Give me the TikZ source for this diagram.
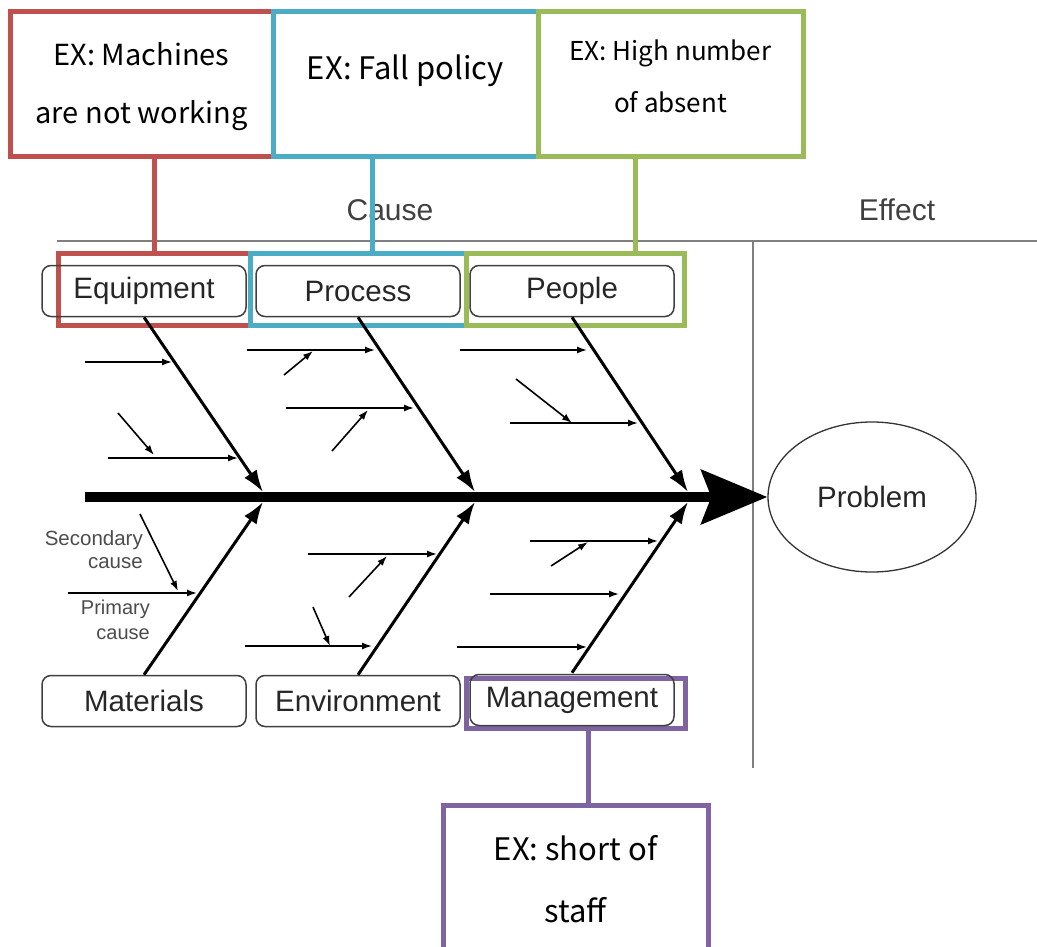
\documentclass[tikz,border=0pt]{standalone}
\usepackage{fontspec}
\setmainfont{Liberation Sans}
\newfontfamily\exfont{Noto Sans CJK KR}
\usepackage{tikz}
\usetikzlibrary{arrows.meta,shapes.geometric}

\definecolor{exred}{HTML}{C0504D}
\definecolor{exblue}{HTML}{4BACC6}
\definecolor{exgreen}{HTML}{9BBB59}
\definecolor{expurple}{HTML}{8064A2}
\definecolor{axisgray}{HTML}{7F7F7F}

\tikzset{
  cat/.style={draw=black!75, line width=1.5pt, rounded corners=9pt, minimum width=204pt, minimum height=51pt, inner sep=0pt, font=\fontsize{29.5}{32}\selectfont, text=black!85},
  exbox/.style={draw=#1, line width=5pt, inner sep=0pt},
  extext/.style={font=\exfont, align=center, text=black},
  bone/.style={line width=3pt, -{Latex[length=22pt,width=15pt]}},
  twig/.style={line width=1.6pt, -{Latex[length=10pt,width=7pt]}},
}

\begin{document}
\begin{tikzpicture}[x=1pt, y=-1pt]
\useasboundingbox (0,0) rectangle (1037,947);

% Cause / Effect frame
\node (cause) at (390,210) [font=\fontsize{30}{32}\selectfont, text=black!75] {Cause};
\node (effect) at (897,210) [font=\fontsize{30}{32}\selectfont, text=black!75] {Effect};
\coordinate (hl) at (57,241);
\coordinate (hr) at (1037,241);
\coordinate (vt) at (753,241);
\coordinate (vb) at (753,768);
\draw[axisgray, line width=2pt] (hl) -- (hr);
\draw[axisgray, line width=2pt] (vt) -- (vb);

% colour marks behind the categories
\node (redlow) at (154,289) [exbox=exred, minimum width=192pt, minimum height=72pt] {};
\node (bluelow) at (358,289) [exbox=exblue, minimum width=216pt, minimum height=72pt] {};
\node (greenlow) at (575,289) [exbox=exgreen, minimum width=218pt, minimum height=72pt] {};
\node (purplelow) at (576,703) [exbox=expurple, minimum width=219pt, minimum height=50pt] {};

% categories
\node (equip) at (144,291) [cat] {Equipment};
\node (proc) at (358,291) [cat] {Process};
\node (people) at (572,291) [cat] {People};
\node (mat) at (144,701) [cat] {Materials};
\node (env) at (358,701) [cat] {Environment};
\node (mgmt) at (572,700) [cat] {Management};

% effect
\node (prob) at (872,497) [draw=black!80, line width=1.3pt, ellipse, minimum width=208pt, minimum height=150pt, font=\fontsize{29.5}{32}\selectfont, text=black!85] {Problem};

% spine
\coordinate (tail) at (85,497);
\draw[line width=10pt, -{Stealth[length=66pt,width=54pt,inset=10pt]}] (tail) -- (prob.west);
\coordinate (j1) at (263,497);
\coordinate (j2) at (475,497);
\coordinate (j3) at (688,497);
\draw[bone] (equip.south) -- ([yshift=5pt]j1);
\draw[bone] (proc.south) -- ([yshift=5pt]j2);
\draw[bone] (people.south) -- ([yshift=5pt]j3);
\draw[bone] (mat.north) -- ([yshift=-5pt]j1);
\draw[bone] (env.north) -- ([yshift=-5pt]j2);
\draw[bone] ([yshift=1pt]mgmt.north) -- ([yshift=-5pt]j3);

% primary and secondary causes
\foreach \xa/\ya/\xb/\yb in {85/362/172/362, 108/458/238/458, 118/413/154/455,
  247/350/375/350, 284/375/313/351, 286/408/414/408, 332/451/368/410,
  460/350/587/350, 516/379/572/423, 510/423/638/423,
  68/593/197/593, 140/514/178/591,
  308/554/437/554, 349/597/387/556, 245/646/372/646, 313/607/330/646,
  530/541/658/541, 551/566/588/542, 490/594/619/594, 457/647/587/647}
  \draw[twig] (\xa,\ya) -- (\xb,\yb);

\node (second) at (143,550) [anchor=east, align=right, inner sep=0pt, font=\fontsize{20.5}{23}\selectfont, text=black!70] {Secondary\\cause};
\node (prim) at (150,620) [anchor=east, align=right, inner sep=0pt, font=\fontsize{20}{25}\selectfont, text=black!70] {Primary\\cause};

% examples
\node (exEquip) at (141.5,84.5) [exbox=exred, minimum width=263pt, minimum height=145pt] {};
\node (exProc) at (405.5,84.5) [exbox=exblue, minimum width=265pt, minimum height=145pt] {};
\node (exPeople) at (670.5,84.5) [exbox=exgreen, minimum width=265pt, minimum height=145pt] {};
\node (exMgmt) at (575.5,880) [exbox=expurple, minimum width=265pt, minimum height=150pt] {};
\node (txEquip) at ([yshift=-2pt]exEquip.center) [extext, font=\exfont\fontsize{29}{58}\selectfont] {EX: Machines\\are not working};
\node (txProc) at ([yshift=14pt]exProc.center) [extext, font=\exfont\fontsize{31}{34}\selectfont] {EX: Fall policy};
\node (txPeople) at ([yshift=8pt]exPeople.center) [extext, font=\exfont\fontsize{26}{52}\selectfont] {EX: High number\\of absent};
\node (txMgmt) at (575.5,879) [extext, font=\exfont\fontsize{31}{62}\selectfont] {EX: short of\\staff};

\draw[exred, line width=5pt] (exEquip.south -| redlow.north) -- (redlow.north);
\draw[exblue, line width=5pt] (exProc.south -| 372,0) -- (bluelow.north -| 372,0);
\draw[exgreen, line width=5pt] (exPeople.south -| 635,0) -- (greenlow.north -| 635,0);
\draw[expurple, line width=5pt] (purplelow.south -| 588,0) -- (exMgmt.north -| 588,0);
\end{tikzpicture}
\end{document}
